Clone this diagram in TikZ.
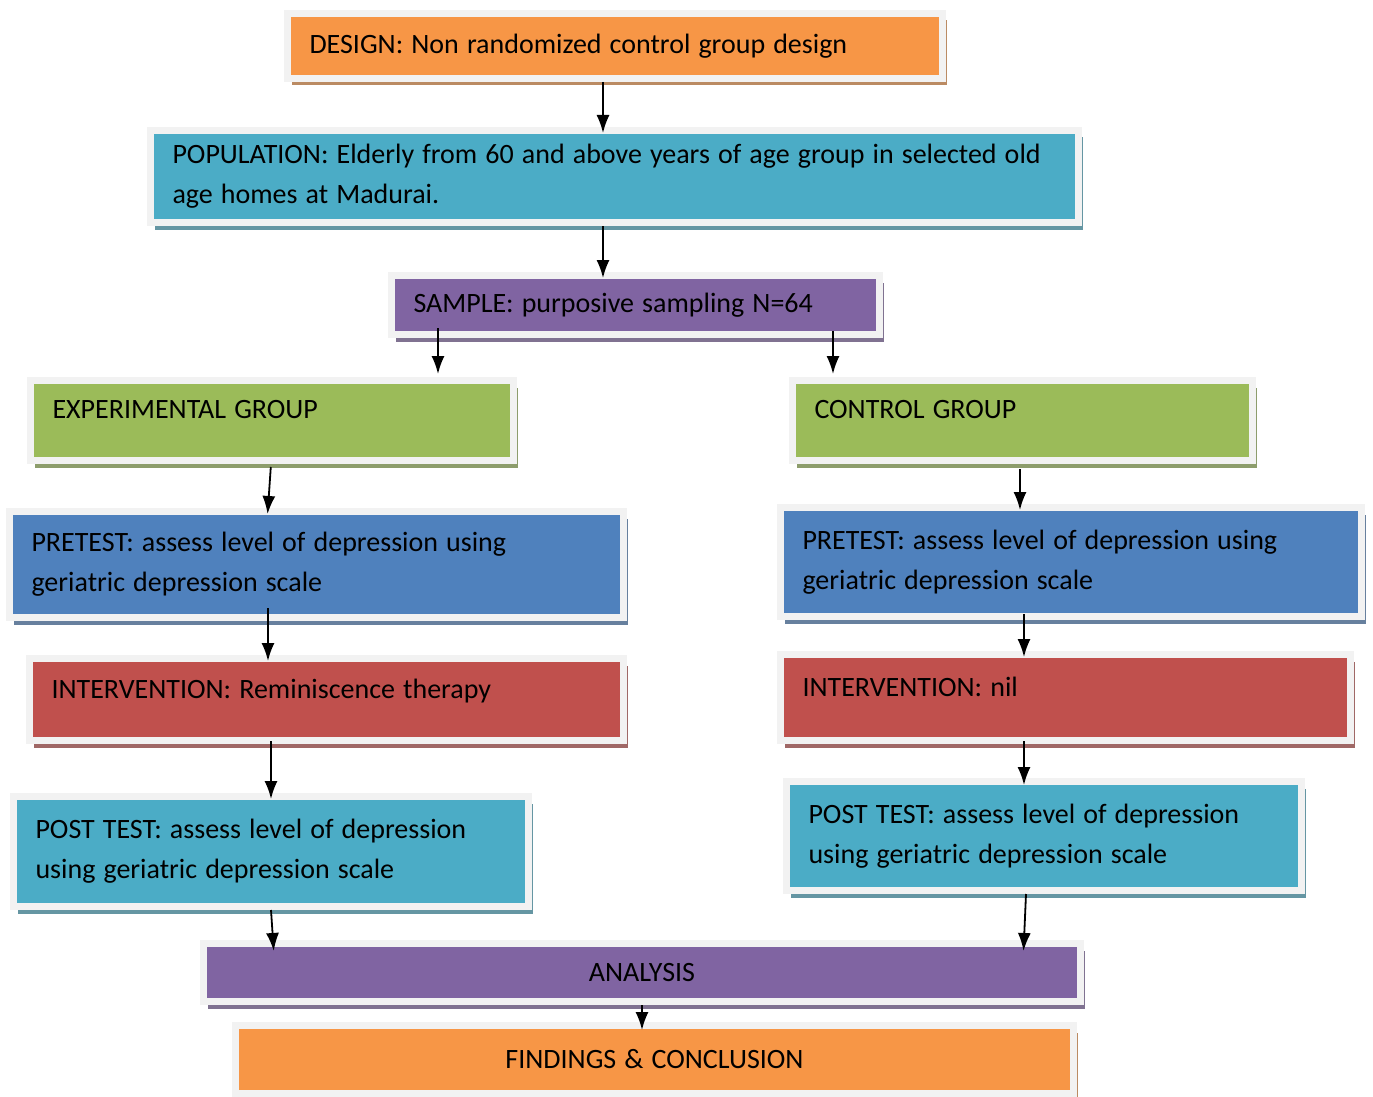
\documentclass[tikz,border=0pt]{standalone}
\usepackage{fontspec}
\setmainfont{Carlito}
\usetikzlibrary{arrows.meta,shadows}
\definecolor{frame}{HTML}{F2F2F2}
\definecolor{orangebox}{HTML}{F79646}
\definecolor{aquabox}{HTML}{4BACC6}
\definecolor{purplebox}{HTML}{8064A2}
\definecolor{greenbox}{HTML}{9BBB59}
\definecolor{bluebox}{HTML}{4F81BD}
\definecolor{redbox}{HTML}{C0504D}
\tikzset{
  box/.style={anchor=north west,rectangle,fill=#1,draw=frame,line width=7pt,
    inner xsep=22pt,inner ysep=0pt,align=left,
    font=\fontsize{28}{40}\selectfont,
    execute at begin node={\spaceskip=8.1pt\relax},
    drop shadow={shadow xshift=4pt,shadow yshift=-7pt,fill=#1!50!gray,opacity=1}},
  raised/.style={text depth=22pt},
  arrow/.style={line width=1.8pt,-{Latex[length=18pt,width=13pt]},shorten >=-6pt}
}
\begin{document}
\begin{tikzpicture}[x=1pt,y=-1pt]
\useasboundingbox (0,0) rectangle (1373,1097);
% top
\node[box=orangebox,text width=611,minimum height=65] (design) at (284,10)
  {DESIGN: Non randomized control group design};
\node[box=aquabox,text width=884,minimum height=92,yshift=-4] (population) at (147,123)
  {POPULATION: Elderly from 60 and above years of age group in selected old\\age homes at Madurai.};
\node[box=purplebox,text width=444,minimum height=59] (sample) at (388,272)
  {SAMPLE: purposive sampling N=64};
% experimental side
\node[box=greenbox,text width=439,minimum height=80,raised] (expgrp) at (27,377)
  {EXPERIMENTAL GROUP};
\node[box=bluebox,text width=570,minimum height=106] (exppre) at (6,508)
  {PRETEST: assess level of depression using\\geriatric depression scale};
\node[box=redbox,text width=550,minimum height=82,raised] (expint) at (26,655)
  {INTERVENTION: Reminiscence therapy};
\node[box=aquabox,text width=471,minimum height=110] (exppost) at (10,793)
  {POST TEST: assess level of depression\\using geriatric depression scale};
% control side
\node[box=greenbox,text width=416,minimum height=80,raised] (ctrlgrp) at (789,377)
  {CONTROL GROUP};
\node[box=bluebox,text width=537,minimum height=109] (ctrlpre) at (777,504)
  {PRETEST: assess level of depression using\\geriatric depression scale};
\node[box=redbox,text width=526,minimum height=86,raised] (ctrlint) at (777,651)
  {INTERVENTION: nil};
\node[box=aquabox,text width=471,minimum height=109] (ctrlpost) at (783,778)
  {POST TEST: assess level of depression\\using geriatric depression scale};
% bottom
\node[box=purplebox,text width=833,minimum height=58,align=center] (analysis) at (200,940)
  {ANALYSIS};
\node[box=orangebox,text width=794,minimum height=68,align=center] (findings) at (232,1022)
  {FINDINGS \& CONCLUSION};
% arrows
\draw[arrow] ([xshift=-12]design.south) -- ([xshift=-11.5]population.north);
\draw[arrow] ([xshift=-11.5]population.south) -- ([xshift=-32.5]sample.north);
\draw[arrow,shorten <=-10pt,shorten >=3pt] ([xshift=-197.5]sample.south) -- ([xshift=166]expgrp.north);
\draw[arrow,shorten <=-7pt,shorten >=3pt] ([xshift=197.5]sample.south) -- ([xshift=-189.5]ctrlgrp.north);
\draw[arrow,shorten <=3pt] ([xshift=-1]expgrp.south) -- ([xshift=-48.5]exppre.north);
\draw[arrow,shorten <=5pt] ([xshift=-2.5]ctrlgrp.south) -- ([xshift=-51]ctrlpre.north);
\draw[arrow,shorten <=-13pt] ([xshift=-48.5]exppre.south) -- ([xshift=-58.5]expint.north);
\draw[arrow,shorten <=-6pt] ([xshift=-47]ctrlpre.south) -- ([xshift=-41.5]ctrlint.north);
\draw[arrow,shorten <=-3pt] ([xshift=-55.5]expint.south) -- (exppost.north);
\draw[arrow,shorten <=-3pt,shorten >=-7pt] ([xshift=-41.5]ctrlint.south) -- ([xshift=-20]ctrlpost.north);
\draw[arrow,shorten >=-11pt] (exppost.south) -- ([xshift=-369]analysis.north);
\draw[arrow,shorten >=-11pt] ([xshift=-18]ctrlpost.south) -- ([xshift=382]analysis.north);
\draw[arrow,shorten >=-8pt] (analysis.south) -- ([xshift=-12.5]findings.north);
\end{tikzpicture}
\end{document}
